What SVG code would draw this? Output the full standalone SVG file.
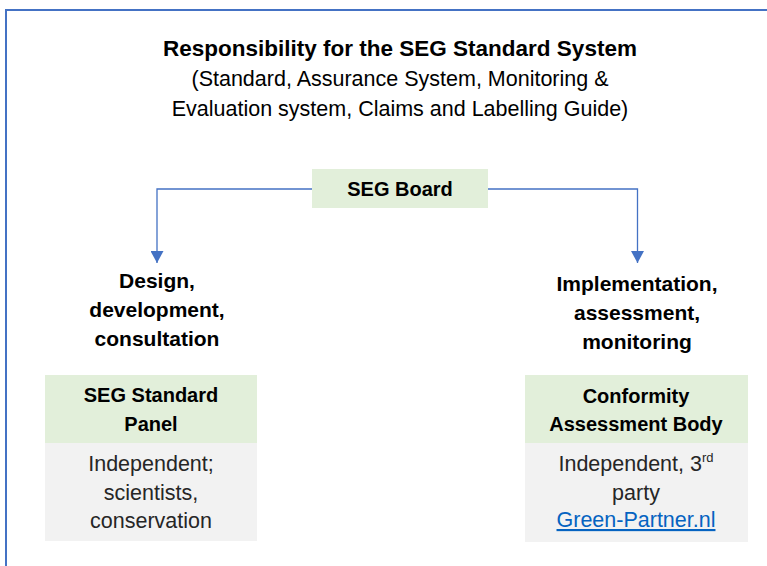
<svg xmlns="http://www.w3.org/2000/svg" width="767" height="566" viewBox="0 0 767 566">
<defs>
<style>
text{font-family:"Liberation Sans",Arial,sans-serif;text-anchor:middle;fill:#000}
.t{font-weight:bold;font-size:22.5px}
.s{font-size:21.5px}
.b{font-weight:bold;font-size:20px}
.l{font-weight:bold;font-size:21px}
.r{font-size:21.5px;fill:#262626}
.hd{fill:#E2EFDA}
.bd{fill:#F2F2F2}
.c{fill:none;stroke:#4472C4;stroke-width:1.3}
</style>
<marker id="ah" viewBox="0 0 12 13" refX="12" refY="6.5" markerWidth="12" markerHeight="13" markerUnits="userSpaceOnUse" orient="auto">
<path d="M0,0 L12,6.5 L0,13 Z" fill="#4472C4"/>
</marker>
</defs>
<rect width="767" height="566" fill="#fff"/>
<rect x="6" y="10" width="800" height="600" fill="none" stroke="#4472C4" stroke-width="2"/>
<g id="title">
<text class="t" x="400" y="56">Responsibility for the SEG Standard System</text>
<text class="s" x="400" y="86">(Standard, Assurance System, Monitoring &amp;</text>
<text class="s" x="400" y="116">Evaluation system, Claims and Labelling Guide)</text>
</g>
<g id="connectors">
<path class="c" d="M312,189 H157 V263" marker-end="url(#ah)"/>
<path class="c" d="M488,189 H637.5 V263" marker-end="url(#ah)"/>
</g>
<g id="board">
<rect class="hd" x="312" y="169" width="176" height="39"/>
<text class="b" x="400" y="196">SEG Board</text>
</g>
<g id="label-left">
<text class="l" x="157" y="288">Design,</text>
<text class="l" x="157" y="317">development,</text>
<text class="l" x="157" y="346">consultation</text>
</g>
<g id="label-right">
<text class="l" x="637" y="291">Implementation,</text>
<text class="l" x="637" y="320">assessment,</text>
<text class="l" x="637" y="349">monitoring</text>
</g>
<g id="panel">
<rect class="hd" x="45" y="375" width="212" height="68"/>
<rect class="bd" x="45" y="443" width="212" height="98"/>
<text class="b" x="151" y="402">SEG Standard</text>
<text class="b" x="151" y="431">Panel</text>
<text class="r" x="151" y="471">Independent;</text>
<text class="r" x="151" y="500">scientists,</text>
<text class="r" x="151" y="528">conservation</text>
</g>
<g id="cab">
<rect class="hd" x="525" y="375" width="223" height="68"/>
<rect class="bd" x="525" y="443" width="223" height="99"/>
<text class="b" x="636" y="403">Conformity</text>
<text class="b" x="636" y="431">Assessment Body</text>
<text class="r" x="636" y="471">Independent, 3<tspan font-size="13" dy="-9">rd</tspan></text>
<text class="r" x="636" y="500">party</text>
<text class="r" x="636" y="527" style="fill:#0563C1;text-decoration:underline">Green-Partner.nl</text>
</g>
</svg>
